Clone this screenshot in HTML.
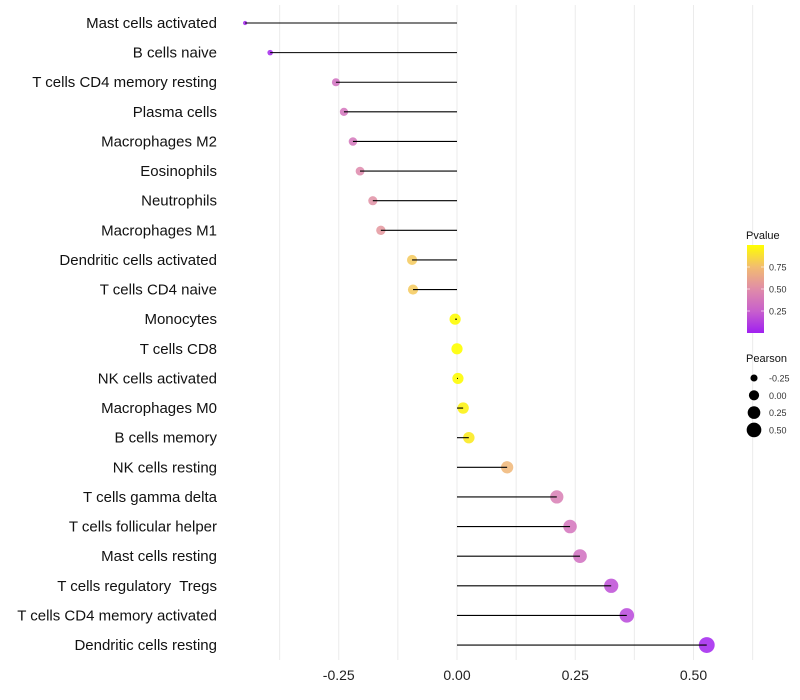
<!DOCTYPE html>
<html><head><meta charset="utf-8"><style>
body{margin:0;background:#fff;}
svg{display:block;font-family:"Liberation Sans",sans-serif;}
text{white-space:pre;}
</style></head><body>
<svg id="chart" width="800" height="700">
</svg>
<script>
const categories=["Mast cells activated","B cells naive","T cells CD4 memory resting","Plasma cells","Macrophages M2","Eosinophils","Neutrophils","Macrophages M1","Dendritic cells activated","T cells CD4 naive","Monocytes","T cells CD8","NK cells activated","Macrophages M0","B cells memory","NK cells resting","T cells gamma delta","T cells follicular helper","Mast cells resting","T cells regulatory  Tregs","T cells CD4 memory activated","Dendritic cells resting"];
const pearson=[-0.448,-0.395,-0.256,-0.239,-0.220,-0.205,-0.178,-0.161,-0.095,-0.093,-0.004,0.0,0.002,0.013,0.025,0.106,0.211,0.239,0.260,0.326,0.359,0.528];
const pvalue=[0.02,0.03,0.33,0.36,0.37,0.48,0.52,0.55,0.80,0.80,0.99,1.0,0.99,0.95,0.92,0.72,0.42,0.36,0.33,0.18,0.15,0.01];
const xTicks=[-0.25,0,0.25,0.5];
const xTickLabels=["-0.25","0.00","0.25","0.50"];
const legendPearson=[-0.25,0,0.25,0.5];
const legendPearsonLabels=["-0.25","0.00","0.25","0.50"];
const legendP=[0.25,0.5,0.75];
const legendPLabels=["0.25","0.50","0.75"];

const svg=document.getElementById('chart');
const NS='http://www.w3.org/2000/svg';
function mk(t,a,p){const e=document.createElementNS(NS,t);for(const k in a)e.setAttribute(k,a[k]);(p||svg).appendChild(e);return e;}
const x=v=>457+v*473;
const y=i=>23+i*29.62;
const r=v=>Math.sqrt(Math.max(2,31.4+60*v));
const stops=[[0,[160,32,240]],[0.25,[200,96,204]],[0.5,[224,140,168]],[0.75,[242,188,112]],[1,[255,255,0]]];
function col(p){for(let i=1;i<stops.length;i++){if(p<=stops[i][0]){const a=stops[i-1],b=stops[i],t=(p-a[0])/(b[0]-a[0]);const c=a[1].map((v,j)=>Math.round(v+(b[1][j]-v)*t));return `rgb(${c})`;}}return 'rgb(255,255,0)';}

const defs=mk('defs',{});
const lg=mk('linearGradient',{id:'pg',x1:0,y1:1,x2:0,y2:0},defs);
stops.forEach(s=>mk('stop',{offset:s[0],'stop-color':`rgb(${s[1]})`},lg));

for(let g=-0.375;g<=0.626;g+=0.125){const l=mk('line',{x1:x(g),x2:x(g),y1:5,y2:660,stroke:'#ebebeb','stroke-width':1});
}
xTicks.forEach((t,i)=>{const e=mk('text',{x:x(t),y:680,'text-anchor':'middle','font-size':14,fill:'#222'});e.textContent=xTickLabels[i];
});
categories.forEach((c,i)=>{
const t=mk('text',{x:217,y:y(i)+5,'text-anchor':'end','font-size':15,fill:'#111'});t.textContent=c;

const p=mk('circle',{cx:x(pearson[i]),cy:y(i),r:r(pearson[i]),fill:col(pvalue[i]),'fill-opacity':pvalue[i]>0.85?0.9:0.85});

const l=mk('line',{x1:x(0),x2:x(pearson[i]),y1:y(i),y2:y(i),stroke:'#000','stroke-width':1.1});

});
const pt=mk('text',{x:746,y:239,'font-size':11,fill:'#111'});pt.textContent='Pvalue';

const pb=mk('rect',{x:747,y:245,width:17,height:88,fill:'url(#pg)'});

const py=p=>333-p*88;
legendP.forEach((p,i)=>{mk('line',{x1:747,x2:750,y1:py(p),y2:py(p),stroke:'#fff','stroke-opacity':0.6});mk('line',{x1:761,x2:764,y1:py(p),y2:py(p),stroke:'#fff','stroke-opacity':0.6});
const t=mk('text',{x:769,y:py(p)+3.5,'font-size':9,fill:'#333'});t.textContent=legendPLabels[i];
});
const st=mk('text',{x:746,y:362,'font-size':11,fill:'#111'});st.textContent='Pearson';

legendPearson.forEach((v,i)=>{const cy=378+i*17.3;
const c=mk('circle',{cx:754,cy:cy,r:r(v)-0.5,fill:'#000'});

const t=mk('text',{x:769,y:cy+3.5,'font-size':9,fill:'#333'});t.textContent=legendPearsonLabels[i];
});
</script>
</body></html>
